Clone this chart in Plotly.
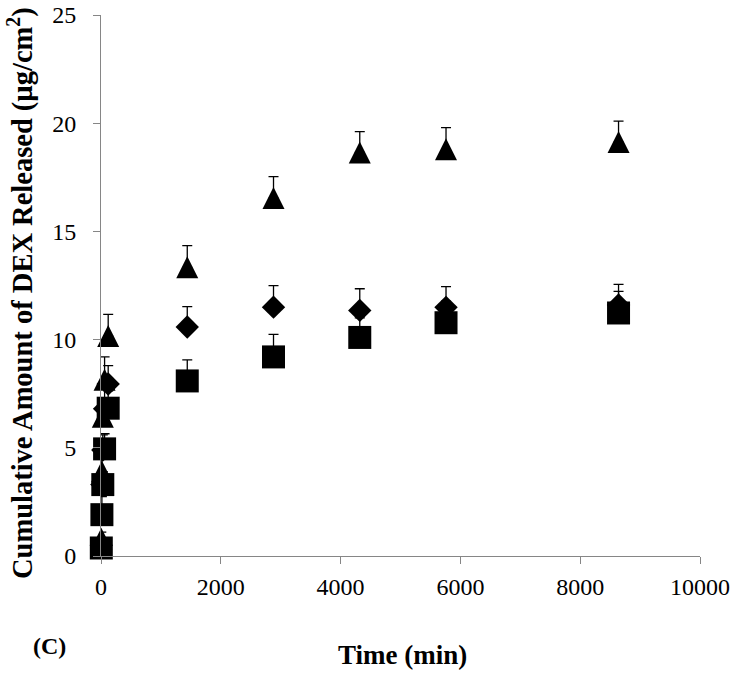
import plotly.graph_objects as go

# Time points (min)
time_min = [5, 15, 30, 60, 120, 1440, 2880, 4320, 5760, 8640]

# Series values (µg/cm²)
diamond_vals = [0.5, 3.3, 4.9, 6.8, 7.95, 10.58, 11.5, 11.35, 11.49, 11.6]
diamond_err = [0.3, 0.6, 0.7, 0.9, 0.85, 0.94, 0.99, 1.0, 0.96, 0.95]

triangle_vals = [0.8, 3.9, 6.44, 8.15, 10.17, 13.34, 16.54, 18.65, 18.8, 19.13]
triangle_err = [0.3, 0.6, 0.8, 1.05, 1.0, 1.0, 0.99, 0.96, 1.0, 0.97]

square_vals = [0.37, 1.91, 3.3, 4.95, 6.83, 8.09, 9.2, 10.1, 10.78, 11.23]
square_err = [0.2, 0.83, 0.6, 0.7, 0.8, 0.97, 1.04, 0.9, 1.0, 1.0]

x_ticks = [0, 2000, 4000, 6000, 8000, 10000]
y_ticks = [0, 5, 10, 15, 20, 25]

FONT = "Liberation Serif"
AXC = "#868686"


def err(vals):
    return dict(type="data", array=vals, arrayminus=[0] * len(vals), symmetric=False,
                color="black", thickness=1.3, width=5)


fig = go.Figure()
fig.add_trace(go.Scatter(
    x=time_min, y=diamond_vals, mode="markers", cliponaxis=False,
    marker=dict(symbol="diamond", size=18, color="black"),
    error_y=err(diamond_err), showlegend=False))
TRI = 22
fig.add_trace(go.Scatter(
    x=time_min, y=triangle_vals, mode="markers", cliponaxis=False,
    marker=dict(symbol="arrow-down", size=TRI, color="black", angle=180, standoff=TRI / 2),
    error_y=err(triangle_err), showlegend=False))
fig.add_trace(go.Scatter(
    x=time_min, y=square_vals, mode="markers", cliponaxis=False,
    marker=dict(symbol="square", size=23, color="black"),
    error_y=err(square_err), showlegend=False))

axis_common = dict(showline=True, linecolor=AXC, linewidth=1, ticks="outside",
                   ticklen=7, tickcolor=AXC, tickwidth=1, showgrid=False, zeroline=False,
                   automargin=False, ticklabeloverflow="allow",
                   tickfont=dict(family=FONT, size=24, color="black"))

fig.update_layout(
    template="none",
    width=749, height=673,
    margin=dict(l=101, r=49, t=15, b=117),
    paper_bgcolor="white", plot_bgcolor="white",
    xaxis=dict(range=[0, 10000], tickvals=x_ticks, ticktext=[str(v) for v in x_ticks],
               ticklabelstandoff=2, **axis_common),
    yaxis=dict(range=[0, 25], tickvals=y_ticks, ticktext=[str(v) for v in y_ticks],
               ticklabelstandoff=12, **axis_common),
    annotations=[
        dict(text="<b>Cumulative Amount of DEX Released (µg/cm<sup>2</sup>)</b>",
             xref="paper", yref="paper", x=(20 - 101) / 599, y=(556 - 293) / 541,
             textangle=-90, showarrow=False, xanchor="center", yanchor="middle",
             font=dict(family=FONT, size=28.5, color="black")),
        dict(text="<b>Time (min)</b>", xref="paper", yref="paper",
             x=(402 - 101) / 599, y=(556 - 655) / 541, showarrow=False,
             xanchor="center", yanchor="middle",
             font=dict(family=FONT, size=27, color="black")),
        dict(text="<b>(C)</b>", xref="paper", yref="paper",
             x=(50 - 101) / 599, y=(556 - 646) / 541, showarrow=False,
             xanchor="center", yanchor="middle",
             font=dict(family=FONT, size=24, color="black")),
    ],
)

# Remove the browser's default 8px body margin so the 749x673 figure fills the window.
fig.write_html("out.html", config={"displayModeBar": False},
               post_script="document.body.style.margin='0';")
